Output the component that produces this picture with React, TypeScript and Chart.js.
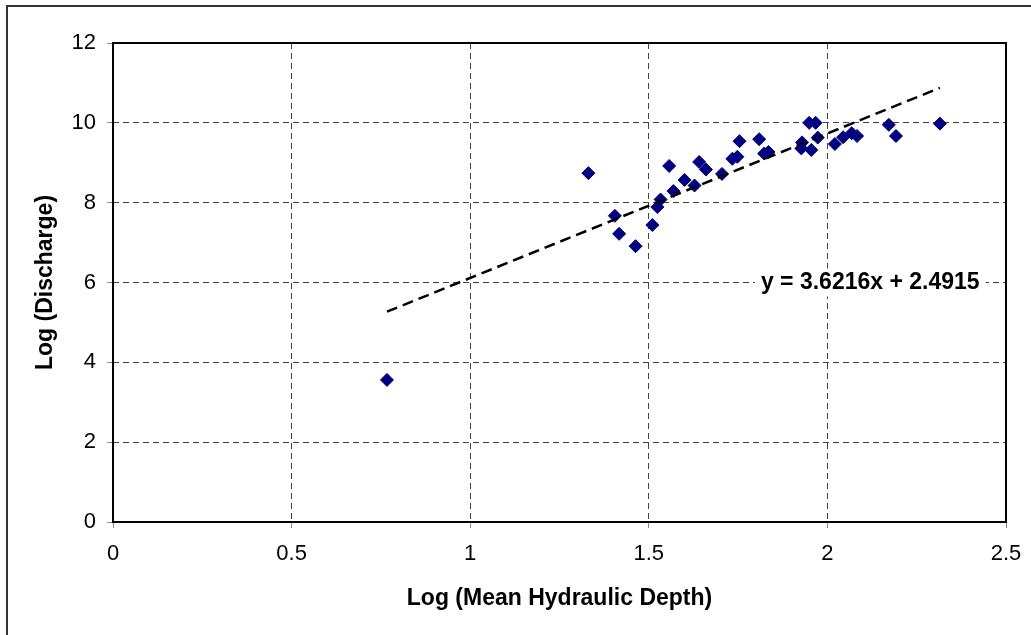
import React, { useEffect, useRef } from "react";
import { Chart, registerables } from "chart.js";

Chart.register(...registerables);

// Data
const depthLog: number[] = [
  0.767, 1.331, 1.405, 1.417, 1.463, 1.51, 1.524, 1.533, 1.557, 1.569,
  1.6, 1.628, 1.641, 1.66, 1.705, 1.734, 1.748, 1.754, 1.809, 1.823,
  1.835, 1.929, 1.927, 1.955, 1.949, 1.967, 1.973, 2.021, 2.044, 2.068,
  2.083, 2.172, 2.192, 2.315,
];
const dischargeLog: number[] = [
  3.56, 8.74, 7.67, 7.22, 6.91, 7.44, 7.89, 8.08, 8.92, 8.29,
  8.57, 8.43, 9.02, 8.83, 8.72, 9.1, 9.15, 9.54, 9.59, 9.23,
  9.27, 9.51, 9.36, 9.32, 10.0, 10.0, 9.63, 9.47, 9.64, 9.74,
  9.67, 9.95, 9.67, 9.98,
];
const slope = 3.6216;
const intercept = 2.4915;
const equationLabel = "y = 3.6216x + 2.4915";
const equationAnchor = { x: 2.12, y: 6.0 };
const xTitle = "Log (Mean Hydraulic Depth)";
const yTitle = "Log (Discharge)";

const FONT = "'Liberation Sans', Arial, sans-serif";

export default function App() {
  const ref = useRef<HTMLCanvasElement | null>(null);

  useEffect(() => {
    if (!ref.current) return;
    const xMin = Math.min(...depthLog);
    const xMax = Math.max(...depthLog);
    const trend = [
      { x: xMin, y: slope * xMin + intercept },
      { x: xMax, y: slope * xMax + intercept },
    ];

    const decor = {
      id: "decor",
      beforeDraw(chart: any) {
        const ctx = chart.ctx;
        ctx.save();
        ctx.fillStyle = "#fff";
        ctx.fillRect(0, 0, chart.width, chart.height);
        ctx.strokeStyle = "#333";
        ctx.lineWidth = 2;
        ctx.strokeRect(7, 6, chart.width + 20, chart.height + 20);
        ctx.restore();
      },
      afterDatasetsDraw(chart: any) {
        const ctx = chart.ctx;
        const a = chart.chartArea;
        ctx.save();
        ctx.strokeStyle = "#000";
        ctx.lineWidth = 2;
        ctx.strokeRect(a.left, a.top, a.right - a.left, a.bottom - a.top);
        // equation label
        const px = chart.scales.x.getPixelForValue(equationAnchor.x);
        const py = chart.scales.y.getPixelForValue(equationAnchor.y);
        ctx.font = `bold 23px ${FONT}`;
        const w = ctx.measureText(equationLabel).width;
        ctx.fillStyle = "#fff";
        ctx.fillRect(px - w / 2 - 6, py - 14, w + 12, 28);
        ctx.fillStyle = "#000";
        ctx.textAlign = "center";
        ctx.textBaseline = "middle";
        ctx.fillText(equationLabel, px, py);
        ctx.restore();
      },
    };

    const gridCommon = {
      color: "#444",
      lineWidth: 1,
      tickLength: 6,
      tickColor: "#888",
      tickBorderDash: [],
    };

    const chart = new Chart(ref.current, {
      type: "scatter",
      data: {
        datasets: [
          {
            label: "data",
            data: depthLog.map((x, i) => ({ x, y: dischargeLog[i] })),
            pointStyle: "rectRot",
            pointRadius: 6.5,
            backgroundColor: "#000080",
            borderColor: "#000080",
            borderWidth: 1,
            order: 2,
          },
          {
            label: "trend",
            type: "line",
            data: trend,
            borderColor: "#000",
            borderWidth: 2.5,
            borderDash: [11, 6],
            pointRadius: 0,
            fill: false,
            order: 1,
          } as any,
        ],
      },
      options: {
        responsive: false,
        animation: false,
        devicePixelRatio: 1,
        layout: { padding: { left: 0, top: 43, right: 25, bottom: 0 } },
        plugins: {
          legend: { display: false },
          tooltip: { enabled: false },
        },
        scales: {
          x: {
            type: "linear",
            min: 0,
            max: 2.5,
            ticks: {
              stepSize: 0.5,
              color: "#000",
              font: { family: FONT, size: 22 },
              padding: 13,
              maxRotation: 0,
              callback: (v: any) => String(Number(v)),
            },
            grid: gridCommon as any,
            border: { display: false, dash: [6, 4] },
            title: {
              display: true,
              text: xTitle,
              color: "#000",
              font: { family: FONT, size: 23, weight: "bold" },
              padding: { top: 23, bottom: 23 },
            },
            afterFit(scale: any) {
              scale.height = 113;
              scale.paddingLeft = 0;
              scale.paddingRight = 0;
            },
          },
          y: {
            type: "linear",
            min: 0,
            max: 12,
            ticks: {
              stepSize: 2,
              color: "#000",
              font: { family: FONT, size: 22 },
              padding: 11,
              callback: (v: any) => String(Number(v)),
            },
            grid: gridCommon as any,
            border: { display: false, dash: [6, 4] },
            title: {
              display: true,
              text: yTitle,
              color: "#000",
              font: { family: FONT, size: 23, weight: "bold" },
              padding: { top: 32, bottom: 32 },
            },
            afterFit(scale: any) {
              scale.width = 113;
              scale.paddingTop = 0;
              scale.paddingBottom = 0;
            },
          },
        },
      },
      plugins: [decor],
    });
    return () => chart.destroy();
  }, []);

  return (
    <canvas
      ref={ref}
      width={1031}
      height={635}
      style={{ position: "absolute", left: 0, top: 0, display: "block" }}
    />
  );
}
